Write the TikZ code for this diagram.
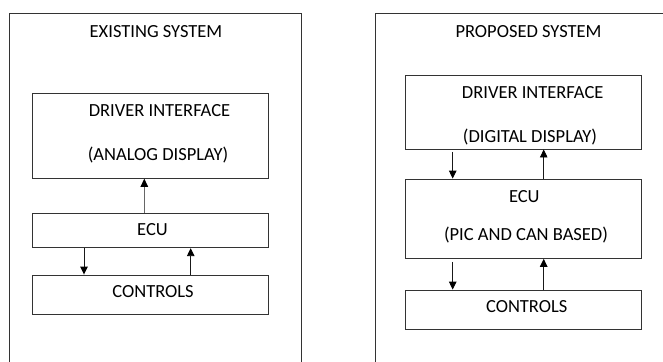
\documentclass[tikz,border=0pt]{standalone}
\usepackage{fontspec}
\setmainfont{Carlito}
\usetikzlibrary{arrows.meta}
\begin{document}
\begin{tikzpicture}[x=1pt,y=-1pt,
  box/.style={draw=black!80,line width=0.9pt,rectangle,inner sep=0pt},
  lbl/.style={font=\fontsize{18.5}{20}\selectfont,text=black,inner sep=0pt},
  arr/.style={draw=black!90,line width=0.9pt,-{Triangle[length=8pt,width=7.5pt,color=black]}}]
\useasboundingbox (0,0) rectangle (663,361);
\clip (0,0) rectangle (663,361);
% outer frames
\draw[draw=black!80,line width=0.9pt] (9.5,380) -- (9.5,13.5) -- (301.5,13.5) -- (301.5,380);
\draw[draw=black!80,line width=0.9pt] (375,380) -- (375,13.5) -- (700,13.5);
% left panel
\node[lbl] (lt) at (156,32) {EXISTING SYSTEM};
\node[box,minimum width=236pt,minimum height=85pt] (ldrv) at (150.3,135.8) {};
\node[lbl] (ld1) at (159.5,111) {DRIVER INTERFACE};
\node[lbl] (ld2) at (158,155) {(ANALOG DISPLAY)};
\node[box,minimum width=236pt,minimum height=34.4pt] (lecu) at (150.3,230.5) {};
\node[lbl] (le1) at (152.5,230) {ECU};
\node[box,minimum width=236pt,minimum height=39pt] (lctl) at (150.3,294.5) {};
\node[lbl] (lc1) at (153,292) {CONTROLS};
\coordinate (la) at (144.3,0);
\coordinate (lb) at (84,0);
\coordinate (lc) at (190.7,0);
\draw[arr,draw=black!60] (lecu.north -| la) -- (ldrv.south -| la);
\draw[arr] (lecu.south -| lb) -- (lctl.north -| lb);
\draw[arr] (lctl.north -| lc) -- (lecu.south -| lc);
% right panel
\node[lbl] (rt) at (528.5,32) {PROPOSED SYSTEM};
\node[box,minimum width=236.7pt,minimum height=74pt] (rdrv) at (523.3,112) {};
\node[lbl] (rd1) at (532.7,93) {DRIVER INTERFACE};
\node[lbl] (rd2) at (530,137) {(DIGITAL DISPLAY)};
\node[box,minimum width=236.7pt,minimum height=79.3pt] (recu) at (523.3,218.7) {};
\node[lbl] (re1) at (524.3,197) {ECU};
\node[lbl] (re2) at (526,235) {(PIC AND CAN BASED)};
\node[box,minimum width=236.7pt,minimum height=39.3pt] (rctl) at (523.3,309.7) {};
\node[lbl] (rc1) at (526.7,307) {CONTROLS};
\coordinate (ra) at (452.7,0);
\coordinate (rb) at (543.7,0);
\draw[arr] ([yshift=-2.5pt]rdrv.south -| ra) -- (recu.north -| ra);
\draw[arr] (recu.north -| rb) -- (rdrv.south -| rb);
\draw[arr] ([yshift=-3pt]recu.south -| ra) -- (rctl.north -| ra);
\draw[arr] (rctl.north -| rb) -- (recu.south -| rb);
\end{tikzpicture}
\end{document}
